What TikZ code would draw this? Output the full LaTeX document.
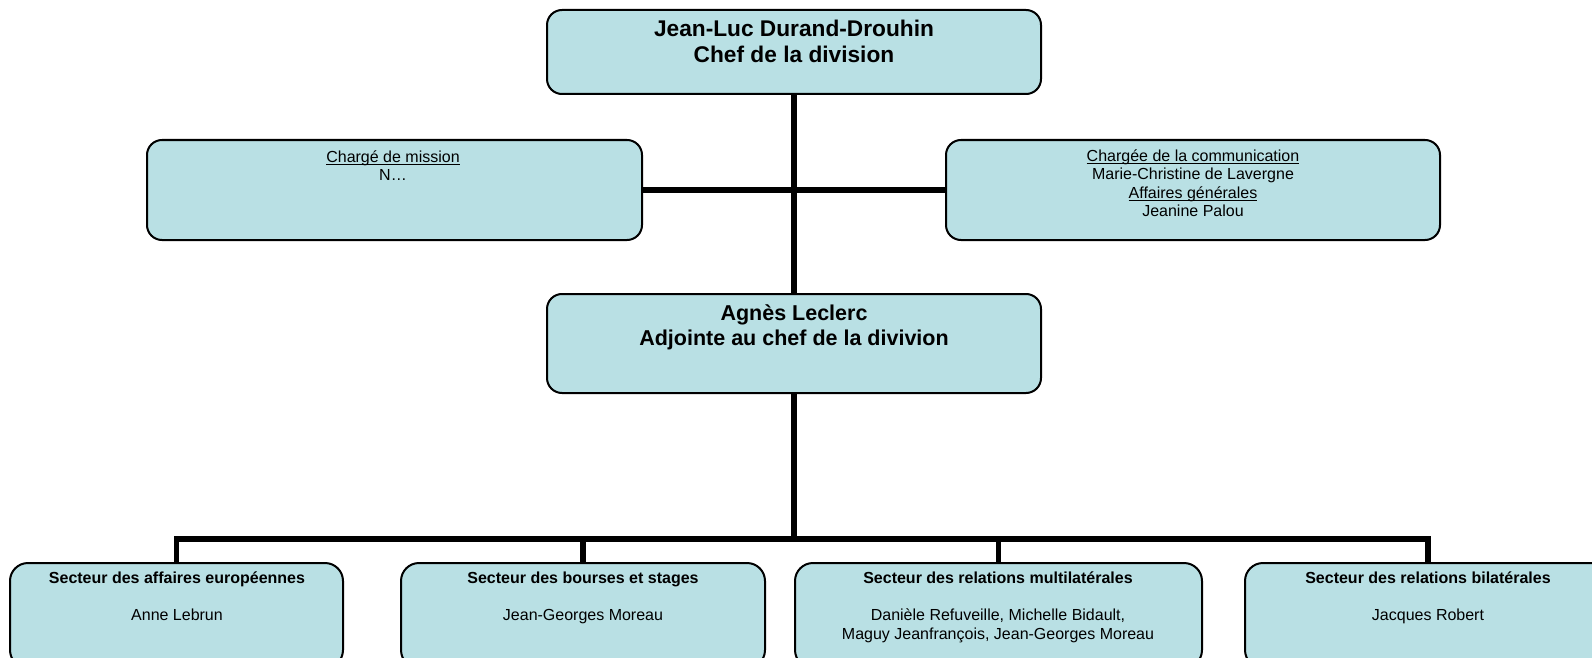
\documentclass[tikz,border=0pt]{standalone}
\usepackage{fontspec}
\setmainfont{Liberation Sans}
\newcommand\myul[1]{\setbox0=\hbox{#1}\rlap{\rule[-2.6pt]{\wd0}{1.1pt}}\box0}
\definecolor{boxfill}{RGB}{185,224,228}
\begin{document}
\begin{tikzpicture}[x=1pt,y=-1pt,
  box/.style={draw=black, line width=2pt, fill=boxfill, rounded corners=15pt, rectangle, inner sep=0pt, outer sep=0pt},
  lowbox/.style={box, rounded corners=18pt, minimum height=105pt},
  conn/.style={line width=5.5pt, black},
  big/.style={font=\fontsize{21.5}{26}\selectfont\bfseries, anchor=base, inner sep=0pt},
  bigger/.style={big, font=\fontsize{22.7}{27}\selectfont\bfseries},
  small/.style={font=\fontsize{16}{19}\selectfont, anchor=base, inner sep=0pt},
  smallb/.style={font=\fontsize{16}{19}\selectfont\bfseries, anchor=base, inner sep=0pt},
]
\path[use as bounding box] (0,0) rectangle (1592,658);
\clip (0,0) rectangle (1592,658);

% boxes
\node[box, minimum width=494pt, minimum height=84pt] (chef) at (794,52) {};
\node[box, minimum width=495pt, minimum height=100pt] (mission) at (394.5,190) {};
\node[box, minimum width=494pt, minimum height=100pt] (comm) at (1193,190) {};
\node[box, minimum width=494pt, minimum height=99pt] (adj) at (794,343.5) {};
\node[lowbox, minimum width=333pt] (aeu) at (176.5,615.5) {};
\node[lowbox, minimum width=364pt] (bst) at (583,615.5) {};
\node[lowbox, minimum width=407pt] (rml) at (998.5,615.5) {};
\node[lowbox, minimum width=366pt] (rbi) at (1428,615.5) {};

% connectors
\coordinate (bus) at (794,539);
\draw[conn] (chef.south) -- (adj.north);
\draw[conn] (mission.east) -- (comm.west);
\draw[conn] (adj.south) -- (bus);
\draw[conn] (aeu.north) |- (rbi.north |- bus) -- (rbi.north);
\draw[conn] (bst.north) -- (bst.north |- bus);
\draw[conn] (rml.north) -- (rml.north |- bus);

% texts
\node[bigger] (chefA) at (794,37) {Jean-Luc Durand-Drouhin};
\node[bigger] (chefB) at (794,63) {Chef de la division};

\node[small] (missionA) at (393,162) {\myul{Chargé de mission}};
\node[small] (missionB) at (393,180) {N…};

\node[small] (commA) at (1193,161) {\myul{Chargée de la communication}};
\node[small] (commB) at (1193,179.5) {Marie-Christine de Lavergne};
\node[small] (commC) at (1193,198) {\myul{Affaires générales}};
\node[small] (commD) at (1193,216.5) {Jeanine Palou};

\node[big] (adjA) at (794,320) {Agnès Leclerc};
\node[big] (adjB) at (794,345) {Adjointe au chef de la divivion};

\node[smallb] (aeuA) at (177,583) {Secteur des affaires européennes};
\node[small] (aeuB) at (177,620) {Anne Lebrun};

\node[smallb] (bstA) at (583,583) {Secteur des bourses et stages};
\node[small] (bstB) at (583,620) {Jean-Georges Moreau};

\node[smallb] (rmlA) at (998,583) {Secteur des relations multilatérales};
\node[small] (rmlB) at (998,620) {Danièle Refuveille, Michelle Bidault,};
\node[small] (rmlC) at (998,639.5) {Maguy Jeanfrançois, Jean-Georges Moreau};

\node[smallb] (rbiA) at (1428,583) {Secteur des relations bilatérales};
\node[small] (rbiB) at (1428,620) {Jacques Robert};
\end{tikzpicture}
\end{document}
